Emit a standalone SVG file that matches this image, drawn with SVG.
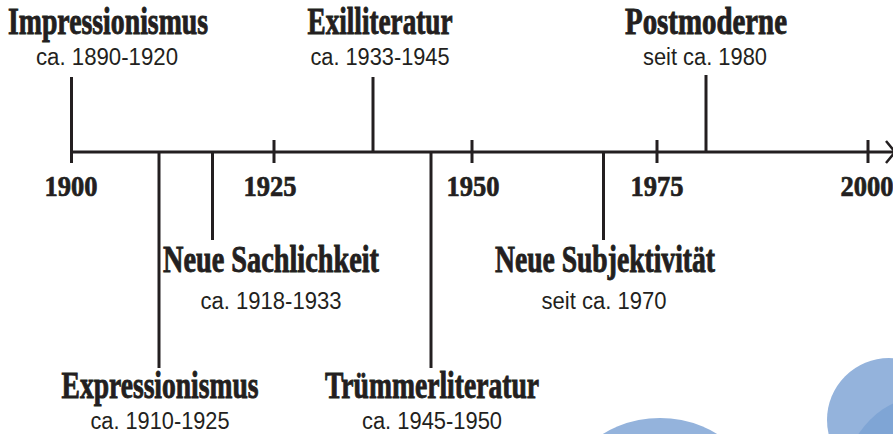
<svg xmlns="http://www.w3.org/2000/svg" width="893" height="434" viewBox="0 0 893 434">
  <style>
    .line { stroke: #231f20; stroke-width: 3; fill: none; }
    .title { font-family: "Liberation Serif", "DejaVu Serif", serif; font-weight: bold; font-size: 37px; fill: #231f20; stroke: #231f20; stroke-width: 0.9; text-anchor: middle; }
    .year { font-family: "Liberation Serif", "DejaVu Serif", serif; font-weight: bold; font-size: 29px; fill: #231f20; stroke: #231f20; stroke-width: 0.7; text-anchor: middle; }
    .sub { font-family: "Liberation Sans", Arial, sans-serif; font-size: 23px; fill: #231f20; text-anchor: middle; }
  </style>
  <defs>
    <marker id="chevron" markerUnits="userSpaceOnUse" markerWidth="24" markerHeight="30" refX="20" refY="15" orient="auto">
      <path d="M11,4 L20,15 L11,26" fill="none" stroke="#231f20" stroke-width="2.5"/>
    </marker>
  </defs>

  <rect width="893" height="434" fill="#ffffff"/>

  <!-- decorative circles -->
  <g id="decor">
    <circle cx="660" cy="528" r="110" fill="#94b3dc"/>
    <circle cx="889" cy="420" r="62" fill="#94b3dc"/>
    <circle cx="930" cy="480" r="85" fill="#7fa5d5"/>
  </g>

  <!-- axis, ticks and period stems -->
  <g id="connectors">
    <line class="line" x1="70" y1="152" x2="895" y2="152" marker-end="url(#chevron)"/>
    <line class="line" x1="274" y1="140" x2="274" y2="163"/>
    <line class="line" x1="472" y1="140" x2="472" y2="163"/>
    <line class="line" x1="657" y1="140" x2="657" y2="163"/>
    <line class="line" x1="868" y1="140" x2="868" y2="163"/>
    <!-- stems above the axis -->
    <line class="line" x1="71.5" y1="77" x2="71.5" y2="163"/>
    <line class="line" x1="373" y1="77" x2="373" y2="152"/>
    <line class="line" x1="706" y1="75" x2="706" y2="152"/>
    <!-- stems below the axis -->
    <line class="line" x1="159" y1="152" x2="159" y2="368"/>
    <line class="line" x1="212.5" y1="152" x2="212.5" y2="240"/>
    <line class="line" x1="431" y1="152" x2="431" y2="368"/>
    <line class="line" x1="603.5" y1="152" x2="603.5" y2="240"/>
  </g>

  <!-- year labels -->
  <g id="years">
    <text class="year" x="71" y="196" textLength="53" lengthAdjust="spacingAndGlyphs">1900</text>
    <text class="year" x="270" y="196" textLength="53" lengthAdjust="spacingAndGlyphs">1925</text>
    <text class="year" x="473" y="196" textLength="53" lengthAdjust="spacingAndGlyphs">1950</text>
    <text class="year" x="657" y="196" textLength="53" lengthAdjust="spacingAndGlyphs">1975</text>
    <text class="year" x="867" y="196" textLength="53" lengthAdjust="spacingAndGlyphs">2000</text>
  </g>

  <g id="impressionismus">
    <text class="title" x="108" y="34" textLength="200" lengthAdjust="spacingAndGlyphs">Impressionismus</text>
    <text class="sub" x="107" y="65" textLength="142" lengthAdjust="spacingAndGlyphs">ca. 1890-1920</text>
  </g>

  <g id="exilliteratur">
    <text class="title" x="380" y="34" textLength="145" lengthAdjust="spacingAndGlyphs">Exilliteratur</text>
    <text class="sub" x="380" y="65" textLength="139" lengthAdjust="spacingAndGlyphs">ca. 1933-1945</text>
  </g>

  <g id="postmoderne">
    <text class="title" x="706" y="34" textLength="162" lengthAdjust="spacingAndGlyphs">Postmoderne</text>
    <text class="sub" x="705" y="65" textLength="124" lengthAdjust="spacingAndGlyphs">seit ca. 1980</text>
  </g>

  <g id="neue-sachlichkeit">
    <text class="title" x="271" y="272" textLength="216" lengthAdjust="spacingAndGlyphs">Neue Sachlichkeit</text>
    <text class="sub" x="271" y="309" textLength="141" lengthAdjust="spacingAndGlyphs">ca. 1918-1933</text>
  </g>

  <g id="neue-subjektivitaet">
    <text class="title" x="605" y="272" textLength="220" lengthAdjust="spacingAndGlyphs">Neue Subjektivität</text>
    <text class="sub" x="604" y="309" textLength="125" lengthAdjust="spacingAndGlyphs">seit ca. 1970</text>
  </g>

  <g id="expressionismus">
    <text class="title" x="160" y="398" textLength="197" lengthAdjust="spacingAndGlyphs">Expressionismus</text>
    <text class="sub" x="160" y="429" textLength="139" lengthAdjust="spacingAndGlyphs">ca. 1910-1925</text>
  </g>

  <g id="truemmerliteratur">
    <text class="title" x="432" y="398" textLength="214" lengthAdjust="spacingAndGlyphs">Trümmerliteratur</text>
    <text class="sub" x="432" y="429" textLength="140" lengthAdjust="spacingAndGlyphs">ca. 1945-1950</text>
  </g>
</svg>
